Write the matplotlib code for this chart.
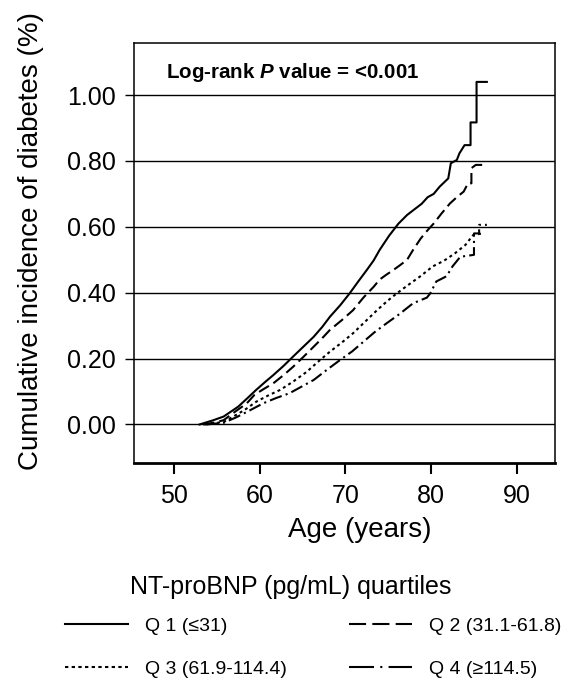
import matplotlib
matplotlib.use("Agg")
import matplotlib.pyplot as plt
from matplotlib.lines import Line2D

plt.rcParams['font.family'] = ['Liberation Sans', 'DejaVu Sans']
plt.rcParams['mathtext.fontset'] = 'custom'
plt.rcParams['mathtext.it'] = 'Liberation Sans:italic:bold'
plt.rcParams['mathtext.rm'] = 'Liberation Sans:bold'

# Cumulative incidence curves (age in years, incidence in %)
q1_age = [53.0, 54.5, 55.8, 57.5, 58.5, 59.6, 60.6, 61.6, 62.8, 63.9, 65.1, 66.3,
          67.3, 68.2, 69.4, 70.5, 71.5, 72.5, 73.3, 74.0, 75.1, 76.2, 77.2, 78.0,
          78.9, 79.6, 80.3, 81.0, 82.0, 82.3, 83.0, 83.3, 83.9, 84.6, 84.6, 85.3,
          85.3, 86.5]
q1_val = [0.000, 0.012, 0.024, 0.054, 0.078, 0.105, 0.128, 0.150, 0.178, 0.206, 0.236, 0.266,
          0.296, 0.327, 0.362, 0.398, 0.434, 0.469, 0.498, 0.530, 0.573, 0.610, 0.636, 0.652,
          0.670, 0.690, 0.700, 0.722, 0.747, 0.793, 0.803, 0.823, 0.848, 0.848, 0.917, 0.917,
          1.040, 1.040]

q2_age = [53.4, 54.8, 55.8, 57.2, 58.5, 59.4, 60.5, 61.6, 62.8, 63.9, 65.1, 66.3,
          67.3, 68.2, 69.6, 70.9, 72.1, 73.3, 74.0, 74.8, 75.6, 76.4, 77.2, 77.9,
          78.8, 79.6, 80.3, 81.2, 82.2, 83.0, 83.8, 84.3, 84.7, 84.7, 85.2, 86.3]
q2_val = [0.000, 0.006, 0.013, 0.040, 0.064, 0.090, 0.108, 0.125, 0.150, 0.175, 0.205, 0.236,
          0.262, 0.287, 0.317, 0.347, 0.385, 0.418, 0.440, 0.455, 0.469, 0.484, 0.500, 0.530,
          0.565, 0.590, 0.610, 0.640, 0.671, 0.690, 0.707, 0.732, 0.732, 0.778, 0.788, 0.788]

q3_age = [53.6, 54.8, 55.8, 57.0, 58.3, 59.6, 61.0, 62.4, 63.9, 65.5, 66.8, 68.2,
          69.6, 70.9, 72.3, 73.7, 74.9, 76.0, 77.3, 78.7, 80.2, 81.5, 82.8, 84.0,
          84.9, 86.0]
q3_val = [0.000, 0.004, 0.008, 0.025, 0.045, 0.069, 0.088, 0.105, 0.130, 0.160, 0.190, 0.221,
          0.249, 0.277, 0.312, 0.347, 0.375, 0.398, 0.423, 0.449, 0.480, 0.497, 0.520, 0.545,
          0.575, 0.580]

q4_age = [53.8, 55.0, 55.8, 57.3, 58.8, 60.4, 61.9, 63.5, 64.9, 66.3, 67.8, 69.4,
          70.8, 72.1, 73.4, 74.8, 76.3, 77.9, 79.5, 79.9, 80.6, 81.8, 82.5, 83.4,
          85.0, 85.0, 85.6, 85.6, 86.5]
q4_val = [0.000, 0.003, 0.005, 0.022, 0.042, 0.064, 0.080, 0.095, 0.115, 0.135, 0.165, 0.196,
          0.222, 0.251, 0.280, 0.307, 0.335, 0.368, 0.385, 0.398, 0.434, 0.450, 0.480, 0.509,
          0.515, 0.580, 0.580, 0.606, 0.606]

labels = ["Q 1 (\u226431)", "Q 2 (31.1-61.8)", "Q 3 (61.9-114.4)", "Q 4 (\u2265114.5)"]
x_ticks = [50, 60, 70, 80, 90]
y_ticks = [0.0, 0.2, 0.4, 0.6, 0.8, 1.0]

fig = plt.figure(figsize=(5.7, 6.8), dpi=100)
ax = fig.add_axes([0.2351, 0.3196, 0.7386, 0.6176])

for yv in y_ticks:
    ax.axhline(yv, color="black", lw=1.0, zorder=1)

lw = 1.5
ax.plot(q1_age, q1_val, color="black", lw=lw, linestyle="-")
ax.plot(q2_age, q2_val, color="black", lw=lw, linestyle=(0, (5.5, 2.5)))
ax.plot(q3_age, q3_val, color="black", lw=lw, linestyle=(0, (1.4, 1.6)))
ax.plot(q4_age, q4_val, color="black", lw=lw, linestyle=(0, (6, 2, 1, 2)))

ax.set_xlim(45.35, 94.45)
ax.set_ylim(-0.116, 1.159)
ax.set_xticks(x_ticks)
ax.set_yticks(y_ticks)
ax.set_yticklabels([f"{v:.2f}" for v in y_ticks])
ax.tick_params(axis="y", length=6.5, width=1.0, pad=6.5, labelsize=18)
ax.tick_params(axis="x", length=8, width=1.5, pad=7, labelsize=18)
for side in ["left", "top", "right"]:
    ax.spines[side].set_linewidth(1.1)
ax.spines["bottom"].set_linewidth(2.0)

ax.set_xlabel("Age (years)", fontsize=20)
ax.xaxis.set_label_coords(0.537, -0.129)
ax.set_ylabel("Cumulative incidence of diabetes (%)", fontsize=20)
ax.yaxis.set_label_coords(-0.214, 0.528)

ax.text(0.075, 0.928, "Log-rank $P$ value = <0.001", transform=ax.transAxes,
        fontsize=14.8, fontweight="bold", va="center", ha="left")

# legend below the plot
fig.text(291 / 570, 1 - 587 / 680, "NT-proBNP (pg/mL) quartiles", fontsize=18,
         ha="center", va="center")
handles = [
    Line2D([], [], color="black", lw=1.5, linestyle="-"),
    Line2D([], [], color="black", lw=1.5, linestyle=(0, (8.2, 3))),
    Line2D([], [], color="black", lw=1.5, linestyle=(0, (1.6, 1.6))),
    Line2D([], [], color="black", lw=1.5, linestyle=(0, (12, 3, 1, 3))),
]
order = [0, 2, 1, 3]
fig.legend([handles[i] for i in order], [labels[i] for i in order], ncol=2,
           frameon=False, loc="upper left", bbox_to_anchor=(65 / 570, 1 - 617 / 680),
           fontsize=14, handlelength=3.24, handletextpad=0.87, columnspacing=3.19,
           labelspacing=1.31, borderpad=0, borderaxespad=0)

fig.savefig("out.png", dpi=100, facecolor="white")
